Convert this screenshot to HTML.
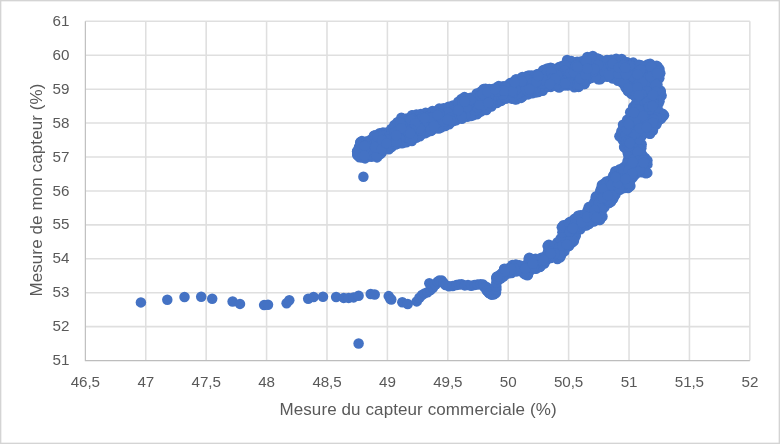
<!DOCTYPE html>
<html lang="fr"><head><meta charset="utf-8"><title>Mesure capteur</title>
<style>
html,body{margin:0;padding:0;background:#fff;}
body{width:780px;height:444px;overflow:hidden;position:relative;font-family:"Liberation Sans",sans-serif;color:#595959;}
#chart{position:absolute;left:0;top:0;width:780px;height:444px;background:#fff;}
svg{position:absolute;left:0;top:0;}
#labels{position:absolute;left:0;top:0;width:780px;height:444px;filter:grayscale(1);}
.tk{position:absolute;font-size:15.2px;line-height:16px;white-space:nowrap;}
.yt{width:40px;text-align:right;left:29.5px;}
.xt{width:60px;text-align:center;top:373.9px;letter-spacing:-.1px;}
.ttl{position:absolute;font-size:17px;line-height:20px;white-space:nowrap;letter-spacing:.1px;}
#xt{left:218.1px;width:400px;text-align:center;top:399.8px;}
#yt{left:37px;top:190.3px;transform:translate(-50%,-50%) rotate(-90deg);}
</style></head><body><div id="chart"></div>
<svg width="780" height="444" viewBox="0 0 780 444">
<rect x="0" y="0" width="780" height="444" fill="none" stroke="#d4d4d4" stroke-width="2.7"/>
<path d="M145.76 21.3V360.55M206.17 21.3V360.55M266.58 21.3V360.55M326.99 21.3V360.55M387.40 21.3V360.55M447.80 21.3V360.55M508.21 21.3V360.55M568.62 21.3V360.55M629.03 21.3V360.55M689.44 21.3V360.55M749.85 21.3V360.55M85.35 21.30H749.85M85.35 55.22H749.85M85.35 89.15H749.85M85.35 123.08H749.85M85.35 157.00H749.85M85.35 190.93H749.85M85.35 224.85H749.85M85.35 258.77H749.85M85.35 292.70H749.85M85.35 326.62H749.85" stroke="#dfdfdf" stroke-width="1.55" fill="none"/>
<path d="M85.35 21.3V360.55H749.85" stroke="#bdbdbd" stroke-width="1.15" fill="none"/>
<g fill="#4472c4"><path d="M355.6 155.6L358.6 158.7L365.1 160.1L370.6 158.5L370.9 158.5L371.3 158.4L371.6 158.4L372.0 158.4L377.6 159.1L381.0 155.7L381.3 155.4L381.5 155.2L381.8 155.0L389.8 150.7L395.9 146.3L396.1 146.1L396.4 146.0L396.8 145.9L397.1 145.8L404.1 144.0L404.4 143.9L412.5 142.6L420.7 137.7L425.6 134.8L425.9 134.6L426.2 134.5L430.9 132.7L431.2 132.6L439.3 130.2L445.8 127.5L450.0 125.7L454.1 122.7L454.4 122.5L454.7 122.3L455.1 122.2L455.4 122.1L462.4 120.3L471.3 117.6L478.4 114.9L487.1 111.4L492.2 108.0L497.6 104.3L498.0 104.1L505.0 100.6L505.3 100.5L505.6 100.4L506.0 100.3L506.3 100.2L506.6 100.2L507.0 100.2L515.3 101.1L521.7 99.5L528.5 96.0L528.9 95.9L529.2 95.8L536.4 94.0L543.3 92.3L550.0 88.9L550.3 88.8L550.6 88.6L551.0 88.6L551.3 88.5L551.6 88.5L552.0 88.5L559.4 89.3L562.6 87.6L562.9 87.5L563.3 87.4L563.6 87.3L563.9 87.2L564.3 87.2L564.6 87.2L564.9 87.3L574.2 89.0L579.1 88.5L585.4 85.2L590.2 80.4L590.5 80.2L590.8 80.0L591.1 79.8L591.4 79.6L591.8 79.5L592.1 79.4L592.5 79.4L592.9 79.4L593.2 79.4L593.6 79.4L600.4 81.0L605.6 78.7L605.9 78.6L606.3 78.5L606.6 78.5L607.0 78.4L607.3 78.5L607.7 78.5L608.0 78.6L608.3 78.7L617.1 82.2L617.4 82.3L617.7 82.5L622.9 86.0L623.2 86.2L623.5 86.5L623.8 86.8L624.0 87.1L624.2 87.4L626.5 92.1L630.3 95.2L634.0 97.4L634.3 97.6L634.6 97.8L634.9 98.1L635.1 98.3L635.3 98.6L635.4 98.9L635.6 99.2L635.7 99.6L635.8 99.9L635.8 100.3L635.8 100.6L635.8 101.0L635.7 101.3L635.6 101.6L635.5 102.0L635.4 102.3L635.2 102.6L635.0 102.8L634.7 103.1L631.9 105.8L628.7 111.6L626.0 118.3L625.9 118.7L625.7 119.0L625.4 119.3L621.5 124.0L619.9 130.4L619.8 130.9L617.6 136.4L620.9 140.3L621.1 140.6L621.3 140.9L621.4 141.2L621.5 141.5L621.6 141.8L621.7 142.1L622.5 147.6L625.6 152.3L625.8 152.6L625.9 152.9L626.0 153.2L626.1 153.6L626.2 153.9L626.2 154.3L626.2 161.1L626.2 161.4L626.1 161.8L626.0 162.1L625.9 162.5L625.8 162.8L625.6 163.1L625.4 163.4L625.1 163.6L624.9 163.9L624.6 164.1L619.5 167.5L619.2 167.6L618.9 167.8L613.9 169.9L612.6 173.8L612.5 174.1L612.3 174.4L612.1 174.7L611.9 175.0L611.7 175.2L611.4 175.5L605.5 180.2L605.4 180.2L600.4 184.0L599.6 188.0L599.5 188.3L599.4 188.7L599.2 189.0L599.0 189.3L594.7 195.6L593.2 200.4L593.1 200.8L592.9 201.1L592.8 201.4L592.6 201.6L592.3 201.9L592.1 202.1L587.4 206.0L585.1 211.4L584.9 211.7L584.7 212.0L584.5 212.3L584.3 212.6L584.0 212.8L583.7 213.0L583.3 213.2L583.0 213.3L582.7 213.4L582.3 213.5L577.3 214.2L574.5 217.1L574.2 217.3L573.9 217.5L568.5 221.1L568.2 221.2L568.0 221.4L562.4 223.8L560.1 226.8L560.8 231.6L560.8 232.0L560.8 232.4L560.7 232.8L560.6 233.2L559.4 237.3L559.3 237.6L559.1 238.0L558.9 238.3L555.5 243.0L555.3 243.3L555.1 243.6L554.8 243.8L554.5 244.0L554.2 244.2L553.9 244.3L553.6 244.4L553.2 244.5L552.9 244.5L552.5 244.6L552.2 244.5L551.8 244.5L551.5 244.4L551.2 244.3L548.6 243.1L546.0 245.6L546.7 248.8L546.7 249.2L546.7 249.5L546.7 249.9L546.7 250.2L546.6 250.6L546.5 250.9L546.3 251.2L546.1 251.5L545.9 251.8L545.7 252.1L545.4 252.3L540.5 256.5L540.2 256.7L539.9 256.9L539.6 257.0L539.2 257.1L538.9 257.2L538.5 257.3L538.2 257.3L532.1 257.3L531.8 257.3L531.5 257.2L531.1 257.2L530.8 257.0L530.5 256.9L529.1 256.2L527.0 258.2L527.0 260.8L527.0 261.1L526.9 261.5L526.8 261.8L526.7 262.1L526.6 262.5L526.4 262.8L526.2 263.1L525.9 263.3L525.7 263.6L525.4 263.8L525.1 263.9L524.7 264.1L524.4 264.2L524.0 264.3L523.7 264.3L523.3 264.4L523.0 264.3L522.6 264.3L515.8 262.8L511.7 263.4L507.9 266.5L507.6 266.7L507.3 266.8L507.0 267.0L506.7 267.1L506.3 267.2L503.2 267.8L499.4 273.0L499.2 273.3L498.9 273.6L498.6 273.8L498.3 274.0L495.1 276.0L494.6 278.4L495.9 282.3L496.0 282.6L496.0 283.0L496.1 283.3L496.1 283.7L496.0 284.0L495.9 284.4L495.8 284.7L495.7 285.0L495.5 285.4L495.3 285.6L495.0 285.9L494.8 286.2L494.5 286.4L494.2 286.6L493.9 286.7L493.5 286.8L493.2 286.9L492.8 287.0L492.5 287.0L488.9 287.0L488.5 287.0L488.2 286.9L486.3 286.6L486.0 292.0L487.9 294.3L491.8 296.2L495.6 295.1L497.6 290.5L498.4 283.2L498.4 282.8L498.5 282.4L498.7 282.1L498.8 281.8L499.0 281.5L499.3 281.2L499.5 280.9L499.8 280.7L500.1 280.5L504.3 277.9L508.9 275.2L509.2 275.0L509.5 274.9L509.8 274.8L515.8 273.1L516.2 273.1L516.5 273.0L516.9 273.0L517.2 273.0L517.5 273.1L517.9 273.2L523.1 274.8L523.3 274.9L523.6 275.1L527.4 277.0L529.4 275.8L530.0 273.6L530.1 273.3L530.2 273.0L530.4 272.7L530.6 272.4L530.8 272.1L531.0 271.9L531.3 271.7L531.6 271.5L531.9 271.3L532.2 271.2L532.5 271.1L532.8 271.0L536.5 270.3L541.3 267.9L545.4 264.8L549.5 260.6L549.8 260.3L550.0 260.1L550.3 259.9L550.7 259.8L551.0 259.6L551.3 259.6L551.7 259.5L552.0 259.5L552.4 259.5L552.7 259.5L553.1 259.6L557.7 260.9L561.5 258.4L565.5 252.6L565.8 252.3L570.3 247.0L570.5 246.9L575.4 241.9L576.9 237.1L577.0 236.8L577.2 236.5L577.4 236.2L580.8 231.1L581.1 230.8L581.3 230.5L581.6 230.3L581.9 230.1L586.9 227.0L587.2 226.8L594.3 223.2L594.6 223.1L595.0 223.0L601.1 221.4L604.3 216.9L603.6 212.2L603.5 211.8L603.5 211.5L603.6 211.1L603.6 210.8L603.7 210.5L603.9 210.2L604.0 209.9L604.2 209.6L604.4 209.3L604.7 209.1L604.9 208.8L612.3 203.0L615.6 197.3L615.7 197.1L615.9 196.8L620.2 191.7L620.5 191.4L620.7 191.2L621.0 191.0L621.3 190.8L621.6 190.7L621.9 190.5L622.2 190.5L622.6 190.4L628.7 189.6L632.2 186.7L631.7 182.1L631.7 181.7L631.7 181.4L631.8 181.1L631.9 180.7L632.0 180.4L632.1 180.1L632.3 179.8L632.5 179.5L632.7 179.3L633.0 179.0L638.3 174.4L638.6 174.2L638.9 174.0L639.2 173.9L639.5 173.7L639.8 173.7L640.2 173.6L640.5 173.6L640.9 173.6L641.2 173.6L641.6 173.7L646.4 175.0L648.4 172.9L647.5 171.8L647.3 171.6L647.1 171.3L646.9 171.0L646.8 170.7L646.7 170.3L646.6 170.0L646.6 169.6L646.6 169.3L646.6 168.9L646.7 168.6L646.8 168.3L646.9 168.0L647.1 167.6L647.2 167.4L649.0 164.9L649.0 159.8L644.7 155.4L644.5 155.2L644.3 154.9L644.1 154.6L644.0 154.3L643.8 154.0L643.8 153.7L643.7 153.4L642.8 146.4L642.8 146.0L642.8 145.6L643.6 137.5L643.7 137.1L643.8 136.8L643.9 136.5L644.0 136.2L644.2 135.9L644.4 135.6L644.7 135.3L644.9 135.1L645.2 134.9L645.5 134.7L645.8 134.5L646.1 134.4L646.5 134.3L646.8 134.3L647.2 134.3L647.5 134.3L647.9 134.3L648.2 134.4L648.6 134.5L650.5 135.3L654.2 131.6L657.6 125.7L657.7 125.4L657.9 125.1L662.3 119.9L665.6 115.3L663.8 112.6L660.6 110.3L660.3 110.1L660.1 109.8L659.8 109.5L659.6 109.2L659.5 108.9L659.3 108.6L659.2 108.2L659.2 107.9L659.1 107.5L659.1 107.1L659.2 106.8L659.3 106.4L659.4 106.1L661.0 101.9L663.4 95.7L661.9 89.8L659.6 85.9L659.4 85.6L659.3 85.2L659.2 84.9L659.1 84.5L659.1 84.2L659.1 83.8L659.1 83.4L659.2 83.1L659.3 82.7L660.9 78.8L661.9 73.3L661.0 68.3L657.6 64.2L650.2 62.0L642.1 63.6L641.7 63.7L641.4 63.7L641.1 63.7L640.7 63.6L640.4 63.6L640.1 63.5L633.5 61.0L628.8 61.0L628.4 61.0L628.1 60.9L627.7 60.8L627.4 60.7L627.1 60.6L626.8 60.4L622.2 57.3L616.1 57.0L607.5 58.3L607.2 58.3L606.9 58.3L606.5 58.3L599.5 57.4L599.2 57.3L598.9 57.3L598.6 57.2L598.3 57.0L593.0 54.3L586.6 55.4L581.0 59.6L580.7 59.8L580.4 59.9L580.1 60.1L579.8 60.2L579.4 60.2L579.1 60.3L578.8 60.3L578.4 60.3L571.7 59.5L571.3 59.4L566.5 58.3L561.8 64.0L561.5 64.3L561.3 64.5L561.0 64.7L560.7 64.9L560.4 65.1L560.0 65.2L559.7 65.3L559.3 65.3L550.3 66.2L543.8 68.2L537.0 72.4L536.7 72.6L536.3 72.7L535.9 72.8L535.5 72.9L528.7 73.8L521.8 75.5L515.1 78.0L510.1 81.3L509.7 81.5L509.3 81.7L508.9 81.8L498.3 84.5L489.4 87.1L489.1 87.2L488.8 87.3L488.4 87.3L483.1 87.3L475.8 92.1L471.6 95.5L471.3 95.7L471.0 95.8L470.7 96.0L470.4 96.1L470.0 96.2L469.7 96.2L469.4 96.3L469.0 96.2L468.7 96.2L464.0 95.3L457.9 100.1L457.6 100.3L457.3 100.5L448.4 104.9L448.1 105.1L447.8 105.2L447.5 105.3L438.8 107.0L432.0 109.3L431.8 109.4L425.3 111.2L425.3 111.2L420.8 112.4L420.3 112.5L416.1 113.0L411.4 113.8L406.8 116.8L406.5 117.0L406.2 117.1L405.9 117.3L405.5 117.4L405.2 117.4L404.9 117.4L404.5 117.4L404.2 117.4L403.8 117.3L403.5 117.2L401.1 116.2L396.2 121.0L391.0 127.1L390.7 127.4L390.5 127.6L390.2 127.8L389.8 128.0L389.5 128.2L382.5 130.8L382.4 130.8L373.0 134.2L367.4 139.1L367.1 139.3L366.8 139.5L366.5 139.7L366.1 139.8L365.8 139.9L365.4 139.9L365.0 140.0L364.7 139.9L364.3 139.9L361.5 139.3L358.8 141.5L355.6 151.0L355.6 155.6Z" fill-rule="evenodd"/>
<circle cx="358.0" cy="155.5" r="5.25"/>
<circle cx="362.4" cy="157.5" r="5.25"/>
<circle cx="368.0" cy="156.3" r="5.25"/>
<circle cx="374.1" cy="155.8" r="5.25"/>
<circle cx="377.7" cy="155.0" r="5.25"/>
<circle cx="381.8" cy="152.5" r="5.25"/>
<circle cx="387.9" cy="148.6" r="5.25"/>
<circle cx="391.6" cy="147.1" r="5.25"/>
<circle cx="397.8" cy="143.6" r="5.25"/>
<circle cx="402.0" cy="143.3" r="5.25"/>
<circle cx="406.4" cy="142.2" r="5.25"/>
<circle cx="411.7" cy="140.0" r="5.25"/>
<circle cx="416.2" cy="137.7" r="5.25"/>
<circle cx="422.1" cy="133.8" r="5.25"/>
<circle cx="426.9" cy="132.3" r="5.25"/>
<circle cx="431.5" cy="130.5" r="5.25"/>
<circle cx="435.7" cy="128.3" r="5.25"/>
<circle cx="441.4" cy="127.4" r="5.25"/>
<circle cx="446.7" cy="124.6" r="5.25"/>
<circle cx="451.6" cy="121.8" r="5.25"/>
<circle cx="456.1" cy="120.3" r="5.25"/>
<circle cx="462.0" cy="117.8" r="5.25"/>
<circle cx="467.1" cy="116.8" r="5.25"/>
<circle cx="473.0" cy="115.2" r="5.25"/>
<circle cx="476.9" cy="114.2" r="5.25"/>
<circle cx="481.2" cy="111.4" r="5.25"/>
<circle cx="487.2" cy="108.2" r="5.25"/>
<circle cx="491.0" cy="105.4" r="5.25"/>
<circle cx="496.6" cy="103.1" r="5.25"/>
<circle cx="501.3" cy="100.9" r="5.25"/>
<circle cx="505.5" cy="98.6" r="5.25"/>
<circle cx="511.6" cy="98.8" r="5.25"/>
<circle cx="516.6" cy="99.2" r="5.25"/>
<circle cx="522.6" cy="96.6" r="5.25"/>
<circle cx="526.6" cy="93.8" r="5.25"/>
<circle cx="532.3" cy="93.2" r="5.25"/>
<circle cx="538.3" cy="92.0" r="5.25"/>
<circle cx="541.7" cy="90.3" r="5.25"/>
<circle cx="547.1" cy="87.1" r="5.25"/>
<circle cx="552.4" cy="85.9" r="5.25"/>
<circle cx="557.0" cy="86.2" r="5.25"/>
<circle cx="563.2" cy="84.6" r="5.25"/>
<circle cx="567.6" cy="85.5" r="5.25"/>
<circle cx="574.2" cy="86.2" r="5.25"/>
<circle cx="578.5" cy="86.6" r="5.25"/>
<circle cx="584.6" cy="84.0" r="5.25"/>
<circle cx="587.7" cy="79.5" r="5.25"/>
<circle cx="591.7" cy="77.1" r="5.25"/>
<circle cx="598.2" cy="79.2" r="5.25"/>
<circle cx="601.4" cy="77.7" r="5.25"/>
<circle cx="607.1" cy="75.9" r="5.25"/>
<circle cx="612.8" cy="78.5" r="5.25"/>
<circle cx="617.7" cy="79.3" r="5.25"/>
<circle cx="622.5" cy="83.0" r="5.25"/>
<circle cx="625.7" cy="87.8" r="5.25"/>
<circle cx="629.5" cy="91.9" r="5.25"/>
<circle cx="633.6" cy="95.1" r="5.25"/>
<circle cx="636.4" cy="97.9" r="5.25"/>
<circle cx="635.6" cy="104.1" r="5.25"/>
<circle cx="632.9" cy="108.8" r="5.25"/>
<circle cx="631.2" cy="112.8" r="5.25"/>
<circle cx="629.1" cy="118.4" r="5.25"/>
<circle cx="626.6" cy="122.0" r="5.25"/>
<circle cx="623.4" cy="126.1" r="5.25"/>
<circle cx="622.7" cy="131.3" r="5.25"/>
<circle cx="620.5" cy="135.5" r="5.25"/>
<circle cx="624.3" cy="140.6" r="5.25"/>
<circle cx="624.5" cy="147.3" r="5.25"/>
<circle cx="627.1" cy="150.0" r="5.25"/>
<circle cx="628.5" cy="156.1" r="5.25"/>
<circle cx="627.6" cy="160.9" r="5.25"/>
<circle cx="623.9" cy="167.1" r="5.25"/>
<circle cx="620.7" cy="170.0" r="5.25"/>
<circle cx="616.3" cy="171.4" r="5.25"/>
<circle cx="613.3" cy="175.6" r="5.25"/>
<circle cx="610.3" cy="180.1" r="5.25"/>
<circle cx="603.9" cy="183.8" r="5.25"/>
<circle cx="602.0" cy="186.2" r="5.25"/>
<circle cx="600.2" cy="191.1" r="5.25"/>
<circle cx="595.7" cy="197.3" r="5.25"/>
<circle cx="595.1" cy="202.3" r="5.25"/>
<circle cx="591.7" cy="205.9" r="5.25"/>
<circle cx="587.7" cy="210.3" r="5.25"/>
<circle cx="584.7" cy="215.1" r="5.25"/>
<circle cx="580.4" cy="215.3" r="5.25"/>
<circle cx="574.4" cy="218.9" r="5.25"/>
<circle cx="570.3" cy="221.7" r="5.25"/>
<circle cx="566.0" cy="225.0" r="5.25"/>
<circle cx="562.5" cy="227.2" r="5.25"/>
<circle cx="563.6" cy="231.1" r="5.25"/>
<circle cx="562.0" cy="237.4" r="5.25"/>
<circle cx="557.5" cy="242.3" r="5.25"/>
<circle cx="554.3" cy="245.5" r="5.25"/>
<circle cx="548.0" cy="245.5" r="5.25"/>
<circle cx="549.3" cy="249.4" r="5.25"/>
<circle cx="546.8" cy="254.6" r="5.25"/>
<circle cx="542.2" cy="257.4" r="5.25"/>
<circle cx="535.5" cy="258.7" r="5.25"/>
<circle cx="531.0" cy="259.0" r="5.25"/>
<circle cx="529.5" cy="262.6" r="5.25"/>
<circle cx="524.9" cy="265.4" r="5.25"/>
<circle cx="519.4" cy="265.2" r="5.25"/>
<circle cx="515.0" cy="265.6" r="5.25"/>
<circle cx="509.9" cy="267.9" r="5.25"/>
<circle cx="504.3" cy="268.8" r="5.25"/>
<circle cx="502.2" cy="273.0" r="5.25"/>
<circle cx="496.7" cy="276.9" r="5.25"/>
<circle cx="498.0" cy="280.0" r="5.25"/>
<circle cx="500.7" cy="278.6" r="5.25"/>
<circle cx="505.9" cy="273.8" r="5.25"/>
<circle cx="511.6" cy="273.1" r="5.25"/>
<circle cx="516.3" cy="270.7" r="5.25"/>
<circle cx="521.7" cy="271.5" r="5.25"/>
<circle cx="525.0" cy="274.4" r="5.25"/>
<circle cx="529.1" cy="271.0" r="5.25"/>
<circle cx="534.7" cy="268.4" r="5.25"/>
<circle cx="539.7" cy="267.1" r="5.25"/>
<circle cx="542.3" cy="264.0" r="5.25"/>
<circle cx="546.3" cy="260.3" r="5.25"/>
<circle cx="552.0" cy="257.0" r="5.25"/>
<circle cx="557.1" cy="257.9" r="5.25"/>
<circle cx="561.2" cy="254.8" r="5.25"/>
<circle cx="564.0" cy="251.4" r="5.25"/>
<circle cx="568.1" cy="246.3" r="5.25"/>
<circle cx="572.0" cy="242.5" r="5.25"/>
<circle cx="574.2" cy="238.9" r="5.25"/>
<circle cx="575.7" cy="234.9" r="5.25"/>
<circle cx="578.3" cy="229.6" r="5.25"/>
<circle cx="584.4" cy="225.4" r="5.25"/>
<circle cx="589.0" cy="224.1" r="5.25"/>
<circle cx="593.8" cy="220.9" r="5.25"/>
<circle cx="599.1" cy="219.9" r="5.25"/>
<circle cx="601.3" cy="215.8" r="5.25"/>
<circle cx="601.1" cy="210.6" r="5.25"/>
<circle cx="604.6" cy="207.1" r="5.25"/>
<circle cx="609.1" cy="203.1" r="5.25"/>
<circle cx="613.2" cy="198.8" r="5.25"/>
<circle cx="615.4" cy="194.6" r="5.25"/>
<circle cx="618.8" cy="190.2" r="5.25"/>
<circle cx="624.4" cy="188.0" r="5.25"/>
<circle cx="628.8" cy="186.8" r="5.25"/>
<circle cx="630.1" cy="181.3" r="5.25"/>
<circle cx="633.0" cy="177.3" r="5.25"/>
<circle cx="635.6" cy="174.2" r="5.25"/>
<circle cx="642.0" cy="172.3" r="5.25"/>
<circle cx="645.6" cy="171.9" r="5.25"/>
<circle cx="644.1" cy="167.5" r="5.25"/>
<circle cx="646.2" cy="163.6" r="5.25"/>
<circle cx="645.1" cy="158.0" r="5.25"/>
<circle cx="641.0" cy="153.2" r="5.25"/>
<circle cx="641.3" cy="148.2" r="5.25"/>
<circle cx="641.6" cy="144.2" r="5.25"/>
<circle cx="641.2" cy="136.5" r="5.25"/>
<circle cx="645.3" cy="132.3" r="5.25"/>
<circle cx="649.5" cy="133.6" r="5.25"/>
<circle cx="652.9" cy="128.4" r="5.25"/>
<circle cx="655.7" cy="124.9" r="5.25"/>
<circle cx="658.5" cy="120.4" r="5.25"/>
<circle cx="662.5" cy="116.7" r="5.25"/>
<circle cx="661.5" cy="113.4" r="5.25"/>
<circle cx="656.3" cy="108.6" r="5.25"/>
<circle cx="658.5" cy="103.4" r="5.25"/>
<circle cx="659.6" cy="97.6" r="5.25"/>
<circle cx="660.8" cy="91.7" r="5.25"/>
<circle cx="657.3" cy="87.5" r="5.25"/>
<circle cx="656.3" cy="83.2" r="5.25"/>
<circle cx="658.7" cy="76.9" r="5.25"/>
<circle cx="659.7" cy="73.4" r="5.25"/>
<circle cx="657.7" cy="66.7" r="5.25"/>
<circle cx="654.0" cy="65.9" r="5.25"/>
<circle cx="647.6" cy="64.5" r="5.25"/>
<circle cx="643.0" cy="66.3" r="5.25"/>
<circle cx="638.9" cy="64.8" r="5.25"/>
<circle cx="633.0" cy="63.8" r="5.25"/>
<circle cx="626.4" cy="62.2" r="5.25"/>
<circle cx="621.6" cy="60.3" r="5.25"/>
<circle cx="616.7" cy="59.9" r="5.25"/>
<circle cx="611.4" cy="59.8" r="5.25"/>
<circle cx="607.2" cy="60.2" r="5.25"/>
<circle cx="600.4" cy="60.0" r="5.25"/>
<circle cx="596.9" cy="58.6" r="5.25"/>
<circle cx="592.1" cy="57.3" r="5.25"/>
<circle cx="587.6" cy="58.3" r="5.25"/>
<circle cx="582.9" cy="61.1" r="5.25"/>
<circle cx="577.1" cy="61.7" r="5.25"/>
<circle cx="571.7" cy="61.5" r="5.25"/>
<circle cx="567.4" cy="60.9" r="5.25"/>
<circle cx="564.3" cy="64.9" r="5.25"/>
<circle cx="559.2" cy="67.0" r="5.25"/>
<circle cx="552.6" cy="68.6" r="5.25"/>
<circle cx="547.3" cy="68.4" r="5.25"/>
<circle cx="543.1" cy="70.3" r="5.25"/>
<circle cx="538.2" cy="74.1" r="5.25"/>
<circle cx="531.8" cy="75.6" r="5.25"/>
<circle cx="527.2" cy="75.9" r="5.25"/>
<circle cx="521.1" cy="78.2" r="5.25"/>
<circle cx="516.2" cy="79.4" r="5.25"/>
<circle cx="512.3" cy="82.5" r="5.25"/>
<circle cx="508.0" cy="85.0" r="5.25"/>
<circle cx="503.2" cy="86.2" r="5.25"/>
<circle cx="496.5" cy="87.6" r="5.25"/>
<circle cx="492.7" cy="89.1" r="5.25"/>
<circle cx="485.5" cy="88.7" r="5.25"/>
<circle cx="481.4" cy="91.3" r="5.25"/>
<circle cx="477.8" cy="93.7" r="5.25"/>
<circle cx="473.2" cy="97.6" r="5.25"/>
<circle cx="467.4" cy="98.5" r="5.25"/>
<circle cx="461.4" cy="98.9" r="5.25"/>
<circle cx="458.6" cy="102.7" r="5.25"/>
<circle cx="452.8" cy="105.4" r="5.25"/>
<circle cx="449.3" cy="107.8" r="5.25"/>
<circle cx="443.6" cy="108.2" r="5.25"/>
<circle cx="438.3" cy="109.9" r="5.25"/>
<circle cx="433.2" cy="112.0" r="5.25"/>
<circle cx="428.5" cy="113.2" r="5.25"/>
<circle cx="422.9" cy="114.8" r="5.25"/>
<circle cx="418.3" cy="115.1" r="5.25"/>
<circle cx="412.4" cy="115.5" r="5.25"/>
<circle cx="407.1" cy="118.5" r="5.25"/>
<circle cx="401.7" cy="118.2" r="5.25"/>
<circle cx="397.8" cy="122.6" r="5.25"/>
<circle cx="394.4" cy="125.0" r="5.25"/>
<circle cx="391.4" cy="129.0" r="5.25"/>
<circle cx="385.7" cy="132.7" r="5.25"/>
<circle cx="379.6" cy="133.3" r="5.25"/>
<circle cx="375.1" cy="135.2" r="5.25"/>
<circle cx="371.1" cy="139.4" r="5.25"/>
<circle cx="366.7" cy="141.7" r="5.25"/>
<circle cx="360.7" cy="141.9" r="5.25"/>
<circle cx="359.0" cy="146.9" r="5.25"/>
<circle cx="357.3" cy="152.2" r="5.25"/>
<circle cx="493.9" cy="289.7" r="5.25"/>
<circle cx="488.5" cy="289.2" r="5.25"/>
<circle cx="491.0" cy="294.2" r="5.25"/>
<circle cx="495.8" cy="289.8" r="5.25"/>
<circle cx="357.2" cy="151.3" r="5.25"/>
<circle cx="360.2" cy="142.5" r="5.25"/>
<circle cx="361.9" cy="141.1" r="5.25"/>
<circle cx="366.4" cy="141.4" r="5.25"/>
<circle cx="373.9" cy="135.7" r="5.25"/>
<circle cx="383.0" cy="132.4" r="5.25"/>
<circle cx="391.3" cy="129.1" r="5.25"/>
<circle cx="397.4" cy="122.2" r="5.25"/>
<circle cx="401.4" cy="117.8" r="5.25"/>
<circle cx="405.6" cy="119.0" r="5.25"/>
<circle cx="412.0" cy="115.3" r="5.25"/>
<circle cx="416.4" cy="114.6" r="5.25"/>
<circle cx="420.9" cy="114.1" r="5.25"/>
<circle cx="425.7" cy="112.8" r="5.25"/>
<circle cx="432.4" cy="110.9" r="5.25"/>
<circle cx="439.2" cy="108.6" r="5.25"/>
<circle cx="448.5" cy="106.7" r="5.25"/>
<circle cx="458.3" cy="101.8" r="5.25"/>
<circle cx="464.4" cy="97.1" r="5.25"/>
<circle cx="470.6" cy="97.7" r="5.25"/>
<circle cx="476.7" cy="93.5" r="5.25"/>
<circle cx="483.6" cy="89.0" r="5.25"/>
<circle cx="489.2" cy="88.9" r="5.25"/>
<circle cx="498.7" cy="86.1" r="5.25"/>
<circle cx="510.2" cy="83.1" r="5.25"/>
<circle cx="515.8" cy="79.5" r="5.25"/>
<circle cx="522.3" cy="77.0" r="5.25"/>
<circle cx="529.0" cy="75.4" r="5.25"/>
<circle cx="537.1" cy="74.2" r="5.25"/>
<circle cx="544.5" cy="69.7" r="5.25"/>
<circle cx="550.6" cy="67.8" r="5.25"/>
<circle cx="561.6" cy="66.2" r="5.25"/>
<circle cx="567.1" cy="59.9" r="5.25"/>
<circle cx="571.2" cy="61.1" r="5.25"/>
<circle cx="580.0" cy="61.8" r="5.25"/>
<circle cx="587.3" cy="57.0" r="5.25"/>
<circle cx="592.8" cy="56.0" r="5.25"/>
<circle cx="598.3" cy="58.8" r="5.25"/>
<circle cx="607.0" cy="59.9" r="5.25"/>
<circle cx="616.2" cy="58.7" r="5.25"/>
<circle cx="621.7" cy="59.0" r="5.25"/>
<circle cx="627.5" cy="62.5" r="5.25"/>
<circle cx="633.2" cy="62.6" r="5.25"/>
<circle cx="640.7" cy="65.3" r="5.25"/>
<circle cx="650.1" cy="63.7" r="5.25"/>
<circle cx="656.6" cy="65.7" r="5.25"/>
<circle cx="659.5" cy="69.1" r="5.25"/>
<circle cx="660.3" cy="73.3" r="5.25"/>
<circle cx="659.3" cy="78.3" r="5.25"/>
<circle cx="657.4" cy="84.5" r="5.25"/>
<circle cx="660.4" cy="90.4" r="5.25"/>
<circle cx="661.6" cy="95.6" r="5.25"/>
<circle cx="659.5" cy="101.3" r="5.25"/>
<circle cx="657.7" cy="108.9" r="5.25"/>
<circle cx="662.6" cy="113.8" r="5.25"/>
<circle cx="664.0" cy="115.3" r="5.25"/>
<circle cx="661.0" cy="118.9" r="5.25"/>
<circle cx="656.5" cy="124.3" r="5.25"/>
<circle cx="652.9" cy="130.6" r="5.25"/>
<circle cx="650.1" cy="133.7" r="5.25"/>
<circle cx="644.5" cy="133.4" r="5.25"/>
<circle cx="641.2" cy="146.3" r="5.25"/>
<circle cx="642.5" cy="155.2" r="5.25"/>
<circle cx="647.4" cy="160.5" r="5.25"/>
<circle cx="647.4" cy="164.4" r="5.25"/>
<circle cx="644.9" cy="169.5" r="5.25"/>
<circle cx="647.3" cy="172.9" r="5.25"/>
<circle cx="645.9" cy="173.2" r="5.25"/>
<circle cx="639.3" cy="172.1" r="5.25"/>
<circle cx="630.5" cy="179.6" r="5.25"/>
<circle cx="630.4" cy="186.0" r="5.25"/>
<circle cx="628.0" cy="188.1" r="5.25"/>
<circle cx="620.7" cy="189.3" r="5.25"/>
<circle cx="614.3" cy="196.3" r="5.25"/>
<circle cx="611.0" cy="201.9" r="5.25"/>
<circle cx="602.3" cy="209.7" r="5.25"/>
<circle cx="602.5" cy="216.5" r="5.25"/>
<circle cx="600.1" cy="219.9" r="5.25"/>
<circle cx="593.8" cy="221.6" r="5.25"/>
<circle cx="586.2" cy="225.5" r="5.25"/>
<circle cx="580.4" cy="229.2" r="5.25"/>
<circle cx="575.6" cy="236.0" r="5.25"/>
<circle cx="573.9" cy="241.0" r="5.25"/>
<circle cx="569.2" cy="245.8" r="5.25"/>
<circle cx="564.3" cy="251.4" r="5.25"/>
<circle cx="560.3" cy="257.2" r="5.25"/>
<circle cx="557.4" cy="259.1" r="5.25"/>
<circle cx="550.7" cy="258.0" r="5.25"/>
<circle cx="544.3" cy="263.5" r="5.25"/>
<circle cx="540.4" cy="266.5" r="5.25"/>
<circle cx="536.0" cy="268.7" r="5.25"/>
<circle cx="529.8" cy="270.8" r="5.25"/>
<circle cx="528.0" cy="274.7" r="5.25"/>
<circle cx="527.4" cy="275.3" r="5.25"/>
<circle cx="524.2" cy="273.5" r="5.25"/>
<circle cx="516.7" cy="271.4" r="5.25"/>
<circle cx="508.7" cy="273.4" r="5.25"/>
<circle cx="503.5" cy="276.5" r="5.25"/>
<circle cx="497.6" cy="280.7" r="5.25"/>
<circle cx="496.0" cy="290.1" r="5.25"/>
<circle cx="494.4" cy="293.7" r="5.25"/>
<circle cx="491.9" cy="294.4" r="5.25"/>
<circle cx="489.0" cy="293.0" r="5.25"/>
<circle cx="487.7" cy="291.4" r="5.25"/>
<circle cx="486.7" cy="287.1" r="5.25"/>
<circle cx="488.2" cy="288.6" r="5.25"/>
<circle cx="496.3" cy="287.0" r="5.25"/>
<circle cx="496.3" cy="278.3" r="5.25"/>
<circle cx="496.6" cy="277.0" r="5.25"/>
<circle cx="500.2" cy="274.6" r="5.25"/>
<circle cx="504.1" cy="269.3" r="5.25"/>
<circle cx="507.8" cy="268.4" r="5.25"/>
<circle cx="512.4" cy="265.0" r="5.25"/>
<circle cx="515.8" cy="264.4" r="5.25"/>
<circle cx="526.8" cy="264.7" r="5.25"/>
<circle cx="528.6" cy="258.9" r="5.25"/>
<circle cx="529.3" cy="257.7" r="5.25"/>
<circle cx="530.9" cy="258.8" r="5.25"/>
<circle cx="540.0" cy="258.6" r="5.25"/>
<circle cx="548.1" cy="251.3" r="5.25"/>
<circle cx="547.7" cy="246.2" r="5.25"/>
<circle cx="548.9" cy="244.8" r="5.25"/>
<circle cx="554.2" cy="245.9" r="5.25"/>
<circle cx="560.7" cy="238.5" r="5.25"/>
<circle cx="562.4" cy="232.3" r="5.25"/>
<circle cx="561.8" cy="227.2" r="5.25"/>
<circle cx="563.4" cy="225.2" r="5.25"/>
<circle cx="568.9" cy="222.8" r="5.25"/>
<circle cx="575.4" cy="218.4" r="5.25"/>
<circle cx="578.1" cy="215.8" r="5.25"/>
<circle cx="584.8" cy="214.3" r="5.25"/>
<circle cx="588.7" cy="207.1" r="5.25"/>
<circle cx="594.3" cy="202.1" r="5.25"/>
<circle cx="596.2" cy="196.3" r="5.25"/>
<circle cx="600.9" cy="189.1" r="5.25"/>
<circle cx="601.9" cy="185.0" r="5.25"/>
<circle cx="606.4" cy="181.5" r="5.25"/>
<circle cx="613.6" cy="175.5" r="5.25"/>
<circle cx="615.2" cy="171.2" r="5.25"/>
<circle cx="619.8" cy="169.2" r="5.25"/>
<circle cx="627.3" cy="163.4" r="5.25"/>
<circle cx="627.7" cy="153.0" r="5.25"/>
<circle cx="624.1" cy="147.0" r="5.25"/>
<circle cx="622.8" cy="140.3" r="5.25"/>
<circle cx="619.4" cy="136.2" r="5.25"/>
<circle cx="621.4" cy="131.2" r="5.25"/>
<circle cx="623.0" cy="124.8" r="5.25"/>
<circle cx="627.2" cy="119.7" r="5.25"/>
<circle cx="630.2" cy="112.3" r="5.25"/>
<circle cx="633.2" cy="106.9" r="5.25"/>
<circle cx="637.4" cy="99.9" r="5.25"/>
<circle cx="631.3" cy="93.9" r="5.25"/>
<circle cx="627.8" cy="91.0" r="5.25"/>
<circle cx="624.9" cy="85.5" r="5.25"/>
<circle cx="617.9" cy="80.8" r="5.25"/>
<circle cx="607.2" cy="76.8" r="5.25"/>
<circle cx="600.2" cy="79.2" r="5.25"/>
<circle cx="591.1" cy="78.0" r="5.25"/>
<circle cx="584.4" cy="83.9" r="5.25"/>
<circle cx="578.7" cy="86.9" r="5.25"/>
<circle cx="574.3" cy="87.3" r="5.25"/>
<circle cx="563.5" cy="85.6" r="5.25"/>
<circle cx="559.1" cy="87.6" r="5.25"/>
<circle cx="550.9" cy="86.9" r="5.25"/>
<circle cx="542.7" cy="90.7" r="5.25"/>
<circle cx="536.0" cy="92.4" r="5.25"/>
<circle cx="528.1" cy="94.4" r="5.25"/>
<circle cx="521.1" cy="97.9" r="5.25"/>
<circle cx="515.2" cy="99.4" r="5.25"/>
<circle cx="505.9" cy="98.6" r="5.25"/>
<circle cx="496.9" cy="102.8" r="5.25"/>
<circle cx="491.3" cy="106.6" r="5.25"/>
<circle cx="486.3" cy="110.0" r="5.25"/>
<circle cx="477.8" cy="113.4" r="5.25"/>
<circle cx="470.8" cy="116.0" r="5.25"/>
<circle cx="461.9" cy="118.7" r="5.25"/>
<circle cx="453.8" cy="120.9" r="5.25"/>
<circle cx="449.2" cy="124.3" r="5.25"/>
<circle cx="445.2" cy="126.0" r="5.25"/>
<circle cx="438.8" cy="128.6" r="5.25"/>
<circle cx="430.5" cy="131.1" r="5.25"/>
<circle cx="425.0" cy="133.2" r="5.25"/>
<circle cx="419.9" cy="136.3" r="5.25"/>
<circle cx="411.9" cy="141.1" r="5.25"/>
<circle cx="404.0" cy="142.4" r="5.25"/>
<circle cx="395.6" cy="144.6" r="5.25"/>
<circle cx="388.9" cy="149.3" r="5.25"/>
<circle cx="380.4" cy="154.0" r="5.25"/>
<circle cx="377.0" cy="157.4" r="5.25"/>
<circle cx="371.4" cy="156.8" r="5.25"/>
<circle cx="365.1" cy="158.4" r="5.25"/>
<circle cx="359.5" cy="157.2" r="5.25"/>
<circle cx="357.2" cy="154.9" r="5.25"/>
<circle cx="357.2" cy="151.3" r="5.25"/>
<circle cx="558.5" cy="73.1" r="5.25"/>
<circle cx="553.5" cy="75.8" r="5.25"/>
<circle cx="647.4" cy="88.8" r="5.25"/>
<circle cx="401.4" cy="138.5" r="5.25"/>
<circle cx="631.9" cy="125.8" r="5.25"/>
<circle cx="434.3" cy="120.1" r="5.25"/>
<circle cx="576.8" cy="69.2" r="5.25"/>
<circle cx="639.6" cy="87.6" r="5.25"/>
<circle cx="654.6" cy="118.8" r="5.25"/>
<circle cx="495.1" cy="90.4" r="5.25"/>
<circle cx="431.2" cy="118.4" r="5.25"/>
<circle cx="531.3" cy="266.3" r="5.25"/>
<circle cx="652.0" cy="87.2" r="5.25"/>
<circle cx="440.9" cy="116.1" r="5.25"/>
<circle cx="623.2" cy="62.7" r="5.25"/>
<circle cx="630.1" cy="168.9" r="5.25"/>
<circle cx="653.3" cy="116.1" r="5.25"/>
<circle cx="476.3" cy="110.2" r="5.25"/>
<circle cx="626.5" cy="169.4" r="5.25"/>
<circle cx="429.9" cy="115.7" r="5.25"/>
<circle cx="377.0" cy="150.1" r="5.25"/>
<circle cx="641.0" cy="135.1" r="5.25"/>
<circle cx="584.9" cy="65.1" r="5.25"/>
<circle cx="648.3" cy="86.7" r="5.25"/>
<circle cx="650.9" cy="106.4" r="5.25"/>
<circle cx="630.5" cy="64.7" r="5.25"/>
<circle cx="591.1" cy="67.2" r="5.25"/>
<circle cx="637.5" cy="118.1" r="5.25"/>
<circle cx="640.0" cy="100.6" r="5.25"/>
<circle cx="595.8" cy="76.2" r="5.25"/>
<circle cx="433.7" cy="115.3" r="5.25"/>
<circle cx="645.3" cy="82.5" r="5.25"/>
<circle cx="552.4" cy="79.0" r="5.25"/>
<circle cx="469.0" cy="104.0" r="5.25"/>
<circle cx="498.4" cy="95.8" r="5.25"/>
<circle cx="403.0" cy="124.2" r="5.25"/>
<circle cx="639.4" cy="148.9" r="5.25"/>
<circle cx="588.3" cy="66.6" r="5.25"/>
<circle cx="497.6" cy="99.8" r="5.25"/>
<circle cx="551.6" cy="77.0" r="5.25"/>
<circle cx="646.9" cy="89.6" r="5.25"/>
<circle cx="378.6" cy="140.1" r="5.25"/>
<circle cx="630.4" cy="122.3" r="5.25"/>
<circle cx="421.9" cy="119.4" r="5.25"/>
<circle cx="534.5" cy="265.2" r="5.25"/>
<circle cx="492.8" cy="99.2" r="5.25"/>
<circle cx="584.1" cy="69.0" r="5.25"/>
<circle cx="514.1" cy="268.3" r="5.25"/>
<circle cx="391.0" cy="141.6" r="5.25"/>
<circle cx="643.9" cy="91.1" r="5.25"/>
<circle cx="651.2" cy="108.7" r="5.25"/>
<circle cx="437.6" cy="113.1" r="5.25"/>
<circle cx="625.4" cy="134.9" r="5.25"/>
<circle cx="569.9" cy="230.9" r="5.25"/>
<circle cx="550.9" cy="251.7" r="5.25"/>
<circle cx="368.1" cy="154.7" r="5.25"/>
<circle cx="620.0" cy="79.0" r="5.25"/>
<circle cx="570.0" cy="242.7" r="5.25"/>
<circle cx="628.5" cy="77.9" r="5.25"/>
<circle cx="421.2" cy="119.5" r="5.25"/>
<circle cx="631.8" cy="175.5" r="5.25"/>
<circle cx="416.8" cy="128.5" r="5.25"/>
<circle cx="517.0" cy="95.5" r="5.25"/>
<circle cx="633.9" cy="158.8" r="5.25"/>
<circle cx="362.8" cy="156.1" r="5.25"/>
<circle cx="477.5" cy="107.5" r="5.25"/>
<circle cx="524.9" cy="87.1" r="5.25"/>
<circle cx="487.9" cy="101.3" r="5.25"/>
<circle cx="444.0" cy="115.2" r="5.25"/>
<circle cx="500.3" cy="91.6" r="5.25"/>
<circle cx="649.8" cy="75.3" r="5.25"/>
<circle cx="630.7" cy="65.6" r="5.25"/>
<circle cx="627.1" cy="185.9" r="5.25"/>
<circle cx="604.3" cy="192.9" r="5.25"/>
<circle cx="637.1" cy="162.6" r="5.25"/>
<circle cx="363.0" cy="148.7" r="5.25"/>
<circle cx="579.9" cy="77.4" r="5.25"/>
<circle cx="641.1" cy="112.7" r="5.25"/>
<circle cx="626.9" cy="180.4" r="5.25"/>
<circle cx="621.2" cy="172.0" r="5.25"/>
<circle cx="634.5" cy="72.7" r="5.25"/>
<circle cx="494.6" cy="95.2" r="5.25"/>
<circle cx="612.4" cy="68.7" r="5.25"/>
<circle cx="390.7" cy="133.8" r="5.25"/>
<circle cx="504.6" cy="97.3" r="5.25"/>
<circle cx="405.9" cy="121.4" r="5.25"/>
<circle cx="630.3" cy="71.1" r="5.25"/>
<circle cx="610.9" cy="181.5" r="5.25"/>
<circle cx="635.1" cy="109.0" r="5.25"/>
<circle cx="531.9" cy="90.1" r="5.25"/>
<circle cx="604.7" cy="194.7" r="5.25"/>
<circle cx="577.4" cy="70.6" r="5.25"/>
<circle cx="634.5" cy="169.7" r="5.25"/>
<circle cx="651.9" cy="110.2" r="5.25"/>
<circle cx="571.7" cy="81.8" r="5.25"/>
<circle cx="613.2" cy="181.2" r="5.25"/>
<circle cx="626.8" cy="65.7" r="5.25"/>
<circle cx="646.9" cy="125.2" r="5.25"/>
<circle cx="520.5" cy="92.5" r="5.25"/>
<circle cx="446.1" cy="114.9" r="5.25"/>
<circle cx="452.8" cy="114.6" r="5.25"/>
<circle cx="377.5" cy="148.9" r="5.25"/>
<circle cx="405.6" cy="136.9" r="5.25"/>
<circle cx="545.5" cy="257.6" r="5.25"/>
<circle cx="635.9" cy="87.5" r="5.25"/>
<circle cx="414.6" cy="129.1" r="5.25"/>
<circle cx="535.0" cy="78.3" r="5.25"/>
<circle cx="637.6" cy="133.8" r="5.25"/>
<circle cx="649.3" cy="105.7" r="5.25"/>
<circle cx="388.7" cy="145.7" r="5.25"/>
<circle cx="532.7" cy="264.6" r="5.25"/>
<circle cx="410.5" cy="132.4" r="5.25"/>
<circle cx="514.1" cy="83.6" r="5.25"/>
<circle cx="406.1" cy="125.8" r="5.25"/>
<circle cx="410.1" cy="120.3" r="5.25"/>
<circle cx="467.3" cy="101.5" r="5.25"/>
<circle cx="653.1" cy="126.0" r="5.25"/>
<circle cx="528.9" cy="84.6" r="5.25"/>
<circle cx="465.2" cy="115.2" r="5.25"/>
<circle cx="416.7" cy="124.3" r="5.25"/>
<circle cx="453.1" cy="110.9" r="5.25"/>
<circle cx="581.2" cy="225.2" r="5.25"/>
<circle cx="613.1" cy="191.7" r="5.25"/>
<circle cx="585.9" cy="77.9" r="5.25"/>
<circle cx="640.0" cy="87.6" r="5.25"/>
<circle cx="589.6" cy="67.9" r="5.25"/>
<circle cx="376.7" cy="141.8" r="5.25"/>
<circle cx="483.5" cy="105.0" r="5.25"/>
<circle cx="430.8" cy="114.5" r="5.25"/>
<circle cx="468.0" cy="106.2" r="5.25"/>
<circle cx="490.3" cy="102.3" r="5.25"/>
<circle cx="406.5" cy="128.1" r="5.25"/>
<circle cx="534.8" cy="76.5" r="5.25"/>
<circle cx="491.9" cy="102.5" r="5.25"/>
<circle cx="560.6" cy="251.9" r="5.25"/>
<circle cx="604.5" cy="71.7" r="5.25"/>
<circle cx="537.1" cy="76.5" r="5.25"/>
<circle cx="477.5" cy="97.9" r="5.25"/>
<circle cx="593.9" cy="71.1" r="5.25"/>
<circle cx="423.3" cy="128.2" r="5.25"/>
<circle cx="577.5" cy="67.8" r="5.25"/>
<circle cx="541.7" cy="81.0" r="5.25"/>
<circle cx="612.7" cy="194.4" r="5.25"/>
<circle cx="624.0" cy="184.3" r="5.25"/>
<circle cx="601.3" cy="65.9" r="5.25"/>
<circle cx="502.9" cy="94.8" r="5.25"/>
<circle cx="381.7" cy="135.1" r="5.25"/>
<circle cx="377.1" cy="136.9" r="5.25"/>
<circle cx="432.5" cy="112.8" r="5.25"/>
<circle cx="631.2" cy="122.5" r="5.25"/>
<circle cx="408.6" cy="120.7" r="5.25"/>
<circle cx="479.8" cy="104.7" r="5.25"/>
<circle cx="541.4" cy="260.9" r="5.25"/>
<circle cx="540.9" cy="76.3" r="5.25"/>
<circle cx="638.4" cy="107.5" r="5.25"/>
<circle cx="376.2" cy="155.1" r="5.25"/>
<circle cx="658.0" cy="70.8" r="5.25"/>
<circle cx="426.6" cy="116.9" r="5.25"/>
<circle cx="534.3" cy="265.3" r="5.25"/>
<circle cx="565.6" cy="78.8" r="5.25"/>
<circle cx="567.7" cy="66.5" r="5.25"/>
<circle cx="637.1" cy="139.8" r="5.25"/>
<circle cx="483.0" cy="91.3" r="5.25"/>
<circle cx="634.0" cy="69.3" r="5.25"/>
<circle cx="617.4" cy="177.6" r="5.25"/>
<circle cx="621.7" cy="67.8" r="5.25"/>
<circle cx="389.9" cy="141.5" r="5.25"/>
<circle cx="456.9" cy="114.5" r="5.25"/>
<circle cx="598.8" cy="202.9" r="5.25"/>
<circle cx="639.0" cy="102.7" r="5.25"/>
<circle cx="442.0" cy="119.3" r="5.25"/>
<circle cx="453.6" cy="117.6" r="5.25"/>
<circle cx="619.0" cy="188.3" r="5.25"/>
<circle cx="601.9" cy="196.9" r="5.25"/>
<circle cx="552.5" cy="69.1" r="5.25"/>
<circle cx="620.1" cy="74.5" r="5.25"/>
<circle cx="636.9" cy="106.3" r="5.25"/>
<circle cx="447.7" cy="112.3" r="5.25"/>
<circle cx="635.1" cy="133.9" r="5.25"/>
<circle cx="640.5" cy="79.5" r="5.25"/>
<circle cx="557.7" cy="69.4" r="5.25"/>
<circle cx="528.2" cy="80.1" r="5.25"/>
<circle cx="623.4" cy="170.6" r="5.25"/>
<circle cx="368.1" cy="150.1" r="5.25"/>
<circle cx="628.6" cy="77.4" r="5.25"/>
<circle cx="574.1" cy="72.2" r="5.25"/>
<circle cx="645.4" cy="84.9" r="5.25"/>
<circle cx="508.0" cy="271.2" r="5.25"/>
<circle cx="599.2" cy="218.2" r="5.25"/>
<circle cx="556.5" cy="254.3" r="5.25"/>
<circle cx="460.4" cy="107.9" r="5.25"/>
<circle cx="559.0" cy="247.5" r="5.25"/>
<circle cx="414.5" cy="121.5" r="5.25"/>
<circle cx="620.0" cy="178.5" r="5.25"/>
<circle cx="585.9" cy="65.9" r="5.25"/>
<circle cx="415.5" cy="130.4" r="5.25"/>
<circle cx="644.7" cy="104.0" r="5.25"/>
<circle cx="650.7" cy="120.4" r="5.25"/>
<circle cx="592.5" cy="67.3" r="5.25"/>
<circle cx="609.2" cy="190.9" r="5.25"/>
<circle cx="439.2" cy="114.9" r="5.25"/>
<circle cx="587.1" cy="217.1" r="5.25"/>
<circle cx="399.2" cy="137.3" r="5.25"/>
<circle cx="570.7" cy="74.6" r="5.25"/>
<circle cx="400.8" cy="122.3" r="5.25"/>
<circle cx="657.6" cy="74.4" r="5.25"/>
<circle cx="503.5" cy="89.1" r="5.25"/>
<circle cx="462.3" cy="102.3" r="5.25"/>
<circle cx="418.4" cy="120.1" r="5.25"/>
<circle cx="577.7" cy="226.9" r="5.25"/>
<circle cx="422.2" cy="116.9" r="5.25"/>
<circle cx="628.1" cy="183.3" r="5.25"/>
<circle cx="633.2" cy="147.6" r="5.25"/>
<circle cx="578.3" cy="70.3" r="5.25"/>
<circle cx="637.3" cy="119.5" r="5.25"/>
<circle cx="584.5" cy="63.3" r="5.25"/>
<circle cx="591.7" cy="59.2" r="5.25"/>
<circle cx="575.9" cy="64.8" r="5.25"/>
<circle cx="651.3" cy="95.5" r="5.25"/>
<circle cx="434.0" cy="118.1" r="5.25"/>
<circle cx="422.1" cy="118.7" r="5.25"/>
<circle cx="579.4" cy="79.9" r="5.25"/>
<circle cx="610.9" cy="64.8" r="5.25"/>
<circle cx="517.2" cy="83.8" r="5.25"/>
<circle cx="622.3" cy="69.5" r="5.25"/>
<circle cx="559.8" cy="254.4" r="5.25"/>
<circle cx="638.8" cy="166.0" r="5.25"/>
<circle cx="580.3" cy="75.1" r="5.25"/>
<circle cx="631.9" cy="76.9" r="5.25"/>
<circle cx="491.8" cy="90.7" r="5.25"/>
<circle cx="365.7" cy="145.6" r="5.25"/>
<circle cx="627.4" cy="71.0" r="5.25"/>
<circle cx="648.7" cy="120.9" r="5.25"/>
<circle cx="650.4" cy="102.9" r="5.25"/>
<circle cx="562.4" cy="245.7" r="5.25"/>
<circle cx="649.0" cy="106.3" r="5.25"/>
<circle cx="423.9" cy="120.2" r="5.25"/>
<circle cx="491.2" cy="98.9" r="5.25"/>
<circle cx="449.9" cy="117.8" r="5.25"/>
<circle cx="607.7" cy="199.0" r="5.25"/>
<circle cx="652.7" cy="92.6" r="5.25"/>
<circle cx="535.2" cy="83.0" r="5.25"/>
<circle cx="425.7" cy="126.0" r="5.25"/>
<circle cx="420.8" cy="130.8" r="5.25"/>
<circle cx="514.4" cy="93.2" r="5.25"/>
<circle cx="380.0" cy="148.6" r="5.25"/>
<circle cx="546.2" cy="82.3" r="5.25"/>
<circle cx="653.2" cy="85.1" r="5.25"/>
<circle cx="461.4" cy="115.9" r="5.25"/>
<circle cx="658.9" cy="92.5" r="5.25"/>
<circle cx="462.3" cy="101.7" r="5.25"/>
<circle cx="629.9" cy="168.3" r="5.25"/>
<circle cx="532.5" cy="82.5" r="5.25"/>
<circle cx="419.9" cy="128.6" r="5.25"/>
<circle cx="511.0" cy="269.0" r="5.25"/>
<circle cx="528.4" cy="91.4" r="5.25"/>
<circle cx="437.3" cy="122.5" r="5.25"/>
<circle cx="430.6" cy="117.7" r="5.25"/>
<circle cx="574.5" cy="224.8" r="5.25"/>
<circle cx="639.1" cy="70.0" r="5.25"/>
<circle cx="644.8" cy="161.7" r="5.25"/>
<circle cx="600.2" cy="217.0" r="5.25"/>
<circle cx="637.6" cy="152.1" r="5.25"/>
<circle cx="490.3" cy="103.0" r="5.25"/>
<circle cx="435.5" cy="112.3" r="5.25"/>
<circle cx="565.0" cy="65.5" r="5.25"/>
<circle cx="638.4" cy="77.1" r="5.25"/>
<circle cx="641.6" cy="78.1" r="5.25"/>
<circle cx="564.7" cy="70.2" r="5.25"/>
<circle cx="629.4" cy="65.7" r="5.25"/>
<circle cx="576.5" cy="229.1" r="5.25"/>
<circle cx="640.5" cy="169.1" r="5.25"/>
<circle cx="635.3" cy="109.6" r="5.25"/>
<circle cx="627.2" cy="144.1" r="5.25"/>
<circle cx="512.5" cy="85.4" r="5.25"/>
<circle cx="570.1" cy="73.4" r="5.25"/>
<circle cx="383.6" cy="135.6" r="5.25"/>
<circle cx="488.7" cy="96.6" r="5.25"/>
<circle cx="513.5" cy="97.1" r="5.25"/>
<circle cx="559.1" cy="79.1" r="5.25"/>
<circle cx="489.3" cy="94.2" r="5.25"/>
<circle cx="502.2" cy="90.8" r="5.25"/>
<circle cx="505.3" cy="87.5" r="5.25"/>
<circle cx="576.0" cy="84.7" r="5.25"/>
<circle cx="488.2" cy="102.8" r="5.25"/>
<circle cx="364.9" cy="149.4" r="5.25"/>
<circle cx="634.3" cy="112.5" r="5.25"/>
<circle cx="375.2" cy="147.1" r="5.25"/>
<circle cx="492.2" cy="291.2" r="5.25"/>
<circle cx="656.2" cy="97.4" r="5.25"/>
<circle cx="480.6" cy="95.7" r="5.25"/>
<circle cx="525.6" cy="89.1" r="5.25"/>
<circle cx="399.6" cy="130.2" r="5.25"/>
<circle cx="556.6" cy="82.7" r="5.25"/>
<circle cx="631.0" cy="137.3" r="5.25"/>
<circle cx="547.9" cy="86.0" r="5.25"/>
<circle cx="407.1" cy="126.4" r="5.25"/>
<circle cx="466.9" cy="106.9" r="5.25"/>
<circle cx="517.7" cy="93.9" r="5.25"/>
<circle cx="637.1" cy="168.6" r="5.25"/>
<circle cx="647.5" cy="102.1" r="5.25"/>
<circle cx="513.1" cy="92.7" r="5.25"/>
<circle cx="622.5" cy="69.5" r="5.25"/>
<circle cx="577.7" cy="84.4" r="5.25"/>
<circle cx="570.0" cy="241.2" r="5.25"/>
<circle cx="620.8" cy="76.4" r="5.25"/>
<circle cx="398.4" cy="128.2" r="5.25"/>
<circle cx="574.7" cy="228.9" r="5.25"/>
<circle cx="470.5" cy="99.9" r="5.25"/>
<circle cx="554.6" cy="253.5" r="5.25"/>
<circle cx="574.0" cy="72.4" r="5.25"/>
<circle cx="638.8" cy="83.3" r="5.25"/>
<circle cx="364.6" cy="145.9" r="5.25"/>
<circle cx="515.6" cy="89.8" r="5.25"/>
<circle cx="435.1" cy="114.3" r="5.25"/>
<circle cx="613.1" cy="68.6" r="5.25"/>
<circle cx="583.6" cy="80.6" r="5.25"/>
<circle cx="539.8" cy="260.7" r="5.25"/>
<circle cx="629.2" cy="122.0" r="5.25"/>
<circle cx="604.1" cy="188.9" r="5.25"/>
<circle cx="411.9" cy="118.6" r="5.25"/>
<circle cx="569.7" cy="231.8" r="5.25"/>
<circle cx="450.4" cy="120.5" r="5.25"/>
<circle cx="649.7" cy="111.3" r="5.25"/>
<circle cx="433.3" cy="125.1" r="5.25"/>
<circle cx="389.7" cy="136.0" r="5.25"/>
<circle cx="653.2" cy="98.7" r="5.25"/>
<circle cx="430.8" cy="129.3" r="5.25"/>
<circle cx="612.3" cy="195.4" r="5.25"/>
<circle cx="546.8" cy="73.0" r="5.25"/>
<circle cx="601.3" cy="198.3" r="5.25"/>
<circle cx="588.6" cy="68.4" r="5.25"/>
<circle cx="624.3" cy="71.6" r="5.25"/>
<circle cx="598.2" cy="64.9" r="5.25"/>
<circle cx="647.1" cy="115.8" r="5.25"/>
<circle cx="639.9" cy="72.7" r="5.25"/>
<circle cx="399.3" cy="129.0" r="5.25"/>
<circle cx="512.5" cy="91.3" r="5.25"/>
<circle cx="550.8" cy="253.4" r="5.25"/>
<circle cx="391.0" cy="139.7" r="5.25"/>
<circle cx="629.1" cy="146.1" r="5.25"/>
<circle cx="639.4" cy="170.1" r="5.25"/>
<circle cx="651.0" cy="90.3" r="5.25"/>
<circle cx="580.2" cy="78.5" r="5.25"/>
<circle cx="655.1" cy="109.7" r="5.25"/>
<circle cx="533.4" cy="267.0" r="5.25"/>
<circle cx="603.2" cy="197.8" r="5.25"/>
<circle cx="389.1" cy="136.3" r="5.25"/>
<circle cx="624.6" cy="64.6" r="5.25"/>
<circle cx="387.8" cy="139.6" r="5.25"/>
<circle cx="643.1" cy="124.3" r="5.25"/>
<circle cx="586.0" cy="221.2" r="5.25"/>
<circle cx="631.4" cy="121.7" r="5.25"/>
<circle cx="543.1" cy="80.8" r="5.25"/>
<circle cx="540.8" cy="81.1" r="5.25"/>
<circle cx="649.1" cy="81.7" r="5.25"/>
<circle cx="648.6" cy="77.0" r="5.25"/>
<circle cx="572.1" cy="228.7" r="5.25"/>
<circle cx="638.7" cy="160.8" r="5.25"/>
<circle cx="638.5" cy="121.2" r="5.25"/>
<circle cx="535.4" cy="88.5" r="5.25"/>
<circle cx="439.4" cy="113.9" r="5.25"/>
<circle cx="531.4" cy="267.0" r="5.25"/>
<circle cx="409.6" cy="138.5" r="5.25"/>
<circle cx="655.1" cy="85.4" r="5.25"/>
<circle cx="532.2" cy="87.9" r="5.25"/>
<circle cx="653.2" cy="78.9" r="5.25"/>
<circle cx="431.8" cy="117.5" r="5.25"/>
<circle cx="497.9" cy="91.7" r="5.25"/>
<circle cx="545.6" cy="81.1" r="5.25"/>
<circle cx="542.4" cy="83.7" r="5.25"/>
<circle cx="434.1" cy="126.1" r="5.25"/>
<circle cx="556.9" cy="84.3" r="5.25"/>
<circle cx="607.8" cy="195.4" r="5.25"/>
<circle cx="656.3" cy="117.8" r="5.25"/>
<circle cx="628.1" cy="127.5" r="5.25"/>
<circle cx="444.2" cy="121.7" r="5.25"/>
<circle cx="464.8" cy="101.5" r="5.25"/>
<circle cx="629.6" cy="167.8" r="5.25"/>
<circle cx="567.6" cy="83.1" r="5.25"/>
<circle cx="566.7" cy="244.4" r="5.25"/>
<circle cx="482.5" cy="94.1" r="5.25"/>
<circle cx="521.8" cy="81.3" r="5.25"/>
<circle cx="589.5" cy="220.7" r="5.25"/>
<circle cx="626.2" cy="140.7" r="5.25"/>
<circle cx="650.9" cy="66.8" r="5.25"/>
<circle cx="640.7" cy="69.8" r="5.25"/>
<circle cx="595.9" cy="217.7" r="5.25"/>
<circle cx="609.0" cy="75.3" r="5.25"/>
<circle cx="396.2" cy="138.9" r="5.25"/>
<circle cx="649.2" cy="109.7" r="5.25"/>
<circle cx="581.4" cy="219.7" r="5.25"/>
<circle cx="642.5" cy="82.0" r="5.25"/>
<circle cx="645.4" cy="119.7" r="5.25"/>
<circle cx="364.3" cy="155.6" r="5.25"/>
<circle cx="644.8" cy="117.5" r="5.25"/>
<circle cx="556.5" cy="80.0" r="5.25"/>
<circle cx="637.5" cy="74.4" r="5.25"/>
<circle cx="638.1" cy="161.0" r="5.25"/>
<circle cx="569.2" cy="82.9" r="5.25"/>
<circle cx="525.3" cy="268.5" r="5.25"/>
<circle cx="458.3" cy="110.0" r="5.25"/>
<circle cx="643.2" cy="160.3" r="5.25"/>
<circle cx="656.9" cy="73.0" r="5.25"/>
<circle cx="491.6" cy="290.6" r="5.25"/>
<circle cx="581.7" cy="222.3" r="5.25"/>
<circle cx="650.7" cy="76.9" r="5.25"/>
<circle cx="658.3" cy="71.8" r="5.25"/>
<circle cx="410.9" cy="119.8" r="5.25"/>
<circle cx="504.7" cy="271.6" r="5.25"/>
<circle cx="437.5" cy="114.9" r="5.25"/>
<circle cx="631.6" cy="165.2" r="5.25"/>
<circle cx="628.9" cy="86.4" r="5.25"/>
<circle cx="394.3" cy="132.7" r="5.25"/>
<circle cx="410.8" cy="139.1" r="5.25"/>
<circle cx="400.0" cy="123.0" r="5.25"/>
<circle cx="382.1" cy="140.0" r="5.25"/>
<circle cx="572.9" cy="228.1" r="5.25"/>
<circle cx="643.7" cy="162.8" r="5.25"/>
<circle cx="655.9" cy="84.8" r="5.25"/>
<circle cx="628.4" cy="141.6" r="5.25"/>
<circle cx="628.8" cy="170.0" r="5.25"/>
<circle cx="532.6" cy="260.6" r="5.25"/>
<circle cx="543.4" cy="260.1" r="5.25"/>
<circle cx="501.2" cy="90.8" r="5.25"/>
<circle cx="657.2" cy="73.8" r="5.25"/>
<circle cx="633.0" cy="90.2" r="5.25"/>
<circle cx="415.1" cy="123.3" r="5.25"/>
<circle cx="543.9" cy="80.0" r="5.25"/>
<circle cx="639.2" cy="110.1" r="5.25"/>
<circle cx="381.8" cy="149.0" r="5.25"/>
<circle cx="575.9" cy="65.7" r="5.25"/>
<circle cx="653.5" cy="119.3" r="5.25"/>
<circle cx="556.6" cy="76.3" r="5.25"/>
<circle cx="643.0" cy="115.9" r="5.25"/>
<circle cx="597.2" cy="217.7" r="5.25"/>
<circle cx="536.1" cy="81.9" r="5.25"/>
<circle cx="424.5" cy="118.0" r="5.25"/>
<circle cx="624.2" cy="82.3" r="5.25"/>
<circle cx="632.1" cy="173.5" r="5.25"/>
<circle cx="558.1" cy="73.3" r="5.25"/>
<circle cx="594.2" cy="68.9" r="5.25"/>
<circle cx="611.5" cy="185.2" r="5.25"/>
<circle cx="625.3" cy="74.0" r="5.25"/>
<circle cx="652.7" cy="122.7" r="5.25"/>
<circle cx="514.6" cy="82.1" r="5.25"/>
<circle cx="618.1" cy="73.8" r="5.25"/>
<circle cx="594.7" cy="210.0" r="5.25"/>
<circle cx="557.2" cy="75.1" r="5.25"/>
<circle cx="653.7" cy="103.5" r="5.25"/>
<circle cx="551.2" cy="72.1" r="5.25"/>
<circle cx="412.8" cy="137.2" r="5.25"/>
<circle cx="617.8" cy="183.0" r="5.25"/>
<circle cx="503.8" cy="90.8" r="5.25"/>
<circle cx="577.3" cy="66.9" r="5.25"/>
<circle cx="639.7" cy="128.2" r="5.25"/>
<circle cx="633.9" cy="112.6" r="5.25"/>
<circle cx="386.5" cy="143.4" r="5.25"/>
<circle cx="552.3" cy="78.4" r="5.25"/>
<circle cx="612.7" cy="63.4" r="5.25"/>
<circle cx="487.5" cy="91.9" r="5.25"/>
<circle cx="532.9" cy="263.7" r="5.25"/>
<circle cx="618.7" cy="67.5" r="5.25"/>
<circle cx="646.7" cy="127.1" r="5.25"/>
<circle cx="623.5" cy="65.1" r="5.25"/>
<circle cx="587.1" cy="217.0" r="5.25"/>
<circle cx="567.8" cy="83.8" r="5.25"/>
<circle cx="649.3" cy="106.2" r="5.25"/>
<circle cx="411.6" cy="129.7" r="5.25"/>
<circle cx="632.8" cy="162.2" r="5.25"/>
<circle cx="555.1" cy="78.5" r="5.25"/>
<circle cx="407.5" cy="131.2" r="5.25"/>
<circle cx="396.3" cy="141.7" r="5.25"/>
<circle cx="410.2" cy="133.1" r="5.25"/>
<circle cx="615.4" cy="177.0" r="5.25"/>
<circle cx="401.2" cy="128.3" r="5.25"/>
<circle cx="586.6" cy="61.4" r="5.25"/>
<circle cx="585.8" cy="74.8" r="5.25"/>
<circle cx="629.9" cy="143.1" r="5.25"/>
<circle cx="549.9" cy="84.1" r="5.25"/>
<circle cx="626.8" cy="129.2" r="5.25"/>
<circle cx="626.0" cy="74.2" r="5.25"/>
<circle cx="652.6" cy="106.0" r="5.25"/>
<circle cx="565.1" cy="83.6" r="5.25"/>
<circle cx="529.4" cy="89.3" r="5.25"/>
<circle cx="495.1" cy="89.1" r="5.25"/>
<circle cx="628.1" cy="87.9" r="5.25"/>
<circle cx="594.1" cy="215.9" r="5.25"/>
<circle cx="628.5" cy="124.0" r="5.25"/>
<circle cx="637.4" cy="87.2" r="5.25"/>
<circle cx="396.1" cy="135.3" r="5.25"/>
<circle cx="625.1" cy="67.7" r="5.25"/>
<circle cx="587.3" cy="68.6" r="5.25"/>
<circle cx="625.7" cy="178.9" r="5.25"/>
<circle cx="596.3" cy="217.6" r="5.25"/>
<circle cx="638.9" cy="95.2" r="5.25"/>
<circle cx="447.8" cy="119.7" r="5.25"/>
<circle cx="655.9" cy="91.7" r="5.25"/>
<circle cx="538.1" cy="75.9" r="5.25"/>
<circle cx="652.9" cy="95.1" r="5.25"/>
<circle cx="402.3" cy="302.3" r="5.25"/>
<circle cx="407.7" cy="304.0" r="5.25"/>
<circle cx="416.7" cy="301.4" r="5.25"/>
<circle cx="419.4" cy="297.7" r="5.25"/>
<circle cx="422.0" cy="295.0" r="5.25"/>
<circle cx="424.6" cy="293.4" r="5.25"/>
<circle cx="427.5" cy="292.3" r="5.25"/>
<circle cx="430.5" cy="290.0" r="5.25"/>
<circle cx="432.9" cy="287.8" r="5.25"/>
<circle cx="429.3" cy="283.3" r="5.25"/>
<circle cx="435.6" cy="284.6" r="5.25"/>
<circle cx="437.6" cy="281.8" r="5.25"/>
<circle cx="439.2" cy="280.6" r="5.25"/>
<circle cx="441.9" cy="280.6" r="5.25"/>
<circle cx="443.6" cy="283.0" r="5.25"/>
<circle cx="445.5" cy="285.1" r="5.25"/>
<circle cx="449.0" cy="286.3" r="5.25"/>
<circle cx="452.7" cy="286.0" r="5.25"/>
<circle cx="456.3" cy="285.1" r="5.25"/>
<circle cx="459.0" cy="284.6" r="5.25"/>
<circle cx="461.7" cy="284.2" r="5.25"/>
<circle cx="464.8" cy="285.4" r="5.25"/>
<circle cx="468.0" cy="285.1" r="5.25"/>
<circle cx="471.2" cy="285.8" r="5.25"/>
<circle cx="474.3" cy="285.1" r="5.25"/>
<circle cx="477.5" cy="284.6" r="5.25"/>
<circle cx="480.6" cy="284.2" r="5.25"/>
<circle cx="483.2" cy="284.6" r="5.25"/>
<circle cx="484.4" cy="287.2" r="5.25"/>
<circle cx="486.8" cy="290.5" r="5.25"/>
<circle cx="489.3" cy="293.0" r="5.25"/>
<circle cx="491.5" cy="294.4" r="5.25"/>
<circle cx="494.0" cy="294.4" r="5.25"/>
<circle cx="496.0" cy="292.8" r="5.25"/>
<circle cx="496.3" cy="289.5" r="5.25"/>
<circle cx="496.0" cy="286.0" r="5.25"/>
<circle cx="496.3" cy="282.5" r="5.25"/>
<circle cx="496.8" cy="279.0" r="5.25"/>
<circle cx="497.6" cy="276.2" r="5.25"/>
<circle cx="140.9" cy="302.4" r="5.25"/>
<circle cx="167.3" cy="299.7" r="5.25"/>
<circle cx="184.5" cy="297.0" r="5.25"/>
<circle cx="201.2" cy="296.7" r="5.25"/>
<circle cx="212.2" cy="298.8" r="5.25"/>
<circle cx="232.6" cy="301.5" r="5.25"/>
<circle cx="240.0" cy="303.9" r="5.25"/>
<circle cx="264.1" cy="305.1" r="5.25"/>
<circle cx="268.0" cy="304.8" r="5.25"/>
<circle cx="286.6" cy="303.3" r="5.25"/>
<circle cx="289.3" cy="300.3" r="5.25"/>
<circle cx="308.2" cy="298.8" r="5.25"/>
<circle cx="313.6" cy="297.0" r="5.25"/>
<circle cx="323.0" cy="296.7" r="5.25"/>
<circle cx="336.1" cy="297.0" r="5.25"/>
<circle cx="343.7" cy="297.9" r="5.25"/>
<circle cx="348.7" cy="297.9" r="5.25"/>
<circle cx="353.6" cy="297.4" r="5.25"/>
<circle cx="358.6" cy="295.8" r="5.25"/>
<circle cx="370.7" cy="294.0" r="5.25"/>
<circle cx="374.7" cy="294.5" r="5.25"/>
<circle cx="388.7" cy="296.1" r="5.25"/>
<circle cx="390.3" cy="298.8" r="5.25"/>
<circle cx="391.3" cy="299.5" r="5.25"/>
<circle cx="358.6" cy="343.5" r="5.25"/>
<circle cx="363.4" cy="176.7" r="5.25"/>
</g></svg>
<div id="labels">
<div class="tk yt" style="top:12.75px">61</div>
<div class="tk yt" style="top:46.75px">60</div>
<div class="tk yt" style="top:80.75px">59</div>
<div class="tk yt" style="top:114.75px">58</div>
<div class="tk yt" style="top:148.75px">57</div>
<div class="tk yt" style="top:182.75px">56</div>
<div class="tk yt" style="top:215.75px">55</div>
<div class="tk yt" style="top:249.75px">54</div>
<div class="tk yt" style="top:283.75px">53</div>
<div class="tk yt" style="top:317.75px">52</div>
<div class="tk yt" style="top:351.75px">51</div>
<div class="tk xt" style="left:55.3px">46,5</div>
<div class="tk xt" style="left:115.8px">47</div>
<div class="tk xt" style="left:176.2px">47,5</div>
<div class="tk xt" style="left:236.6px">48</div>
<div class="tk xt" style="left:297.0px">48,5</div>
<div class="tk xt" style="left:357.4px">49</div>
<div class="tk xt" style="left:417.8px">49,5</div>
<div class="tk xt" style="left:478.2px">50</div>
<div class="tk xt" style="left:538.6px">50,5</div>
<div class="tk xt" style="left:599.0px">51</div>
<div class="tk xt" style="left:659.4px">51,5</div>
<div class="tk xt" style="left:719.9px">52</div>
<div class="ttl" id="xt">Mesure du capteur commerciale (%)</div>
<div class="ttl" id="yt">Mesure de mon capteur (%)</div>
</div>
</body></html>
